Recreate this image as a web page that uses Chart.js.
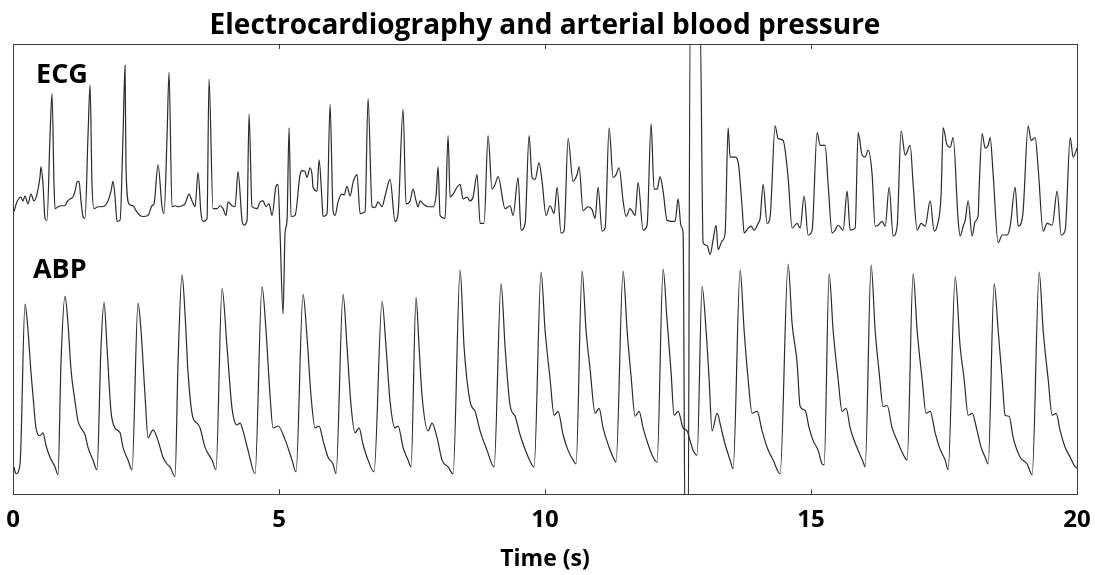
<!DOCTYPE html>
<html><head><meta charset="utf-8">
<script src="https://cdn.jsdelivr.net/npm/chart.js@4.4.1/dist/chart.umd.min.js"></script>
<style>html,body{margin:0;padding:0;background:#fff}</style>
</head><body>
<canvas id="c" width="1095" height="575"></canvas>
<script>
// ---------- DATA (time in s, ECG in mV, ABP in mmHg) ----------
const chartTitle = 'Electrocardiography and arterial blood pressure';
const xAxisTitle = 'Time (s)';
const xTicks = [0, 5, 10, 15, 20];

const ecgTime = [
0.019,0.075,0.150,0.188,0.226,0.282,0.338,0.395,0.451,0.508,
0.526,0.564,0.602,0.639,0.696,0.733,0.771,0.790,0.846,0.902,
0.978,1.015,1.072,1.128,1.166,1.203,1.241,1.278,1.316,1.354,
1.410,1.448,1.485,1.523,1.598,1.654,1.730,1.786,1.842,1.880,
1.918,1.955,2.012,2.068,2.106,2.124,2.181,2.256,2.312,2.388,
2.444,2.538,2.613,2.651,2.726,2.801,2.839,2.895,2.933,2.989,
3.046,3.102,3.177,3.234,3.309,3.365,3.422,3.478,3.534,3.572,
3.647,3.685,3.760,3.835,3.892,3.948,4.004,4.042,4.117,4.174,
4.230,4.305,4.343,4.399,4.437,4.493,4.587,4.644,4.700,4.756,
4.813,4.869,4.944,4.982,5.020,5.076,5.114,5.151,5.189,5.226,
5.302,5.396,5.433,5.490,5.527,5.584,5.621,5.640,5.715,5.753,
5.809,5.828,5.903,5.960,6.016,6.054,6.110,6.185,6.223,6.279,
6.336,6.392,6.467,6.524,6.618,6.674,6.749,6.806,6.862,6.937,
6.994,7.088,7.182,7.238,7.332,7.388,7.464,7.520,7.576,7.614,
7.652,7.708,7.802,7.896,7.952,7.990,8.028,8.122,8.178,8.216,
8.272,8.347,8.404,8.460,8.535,8.592,8.648,8.723,8.780,8.855,
8.930,9.005,9.062,9.118,9.250,9.344,9.400,9.494,9.550,9.626,
9.701,9.757,9.814,9.889,9.945,10.020,10.096,10.171,10.227,10.302,
10.359,10.434,10.528,10.603,10.641,10.716,10.810,10.885,10.942,10.998,
11.073,11.130,11.205,11.280,11.336,11.393,11.468,11.524,11.600,11.694,
11.750,11.844,11.919,11.994,12.051,12.107,12.164,12.220,12.295,12.389,
12.446,12.502,12.558,12.596,12.634,12.690,12.728,12.916,12.972,13.047,
13.104,13.160,13.216,13.254,13.329,13.386,13.442,13.480,13.574,13.630,
13.705,13.743,13.818,13.874,13.931,14.006,14.044,14.100,14.175,14.232,
14.326,14.382,14.476,14.570,14.645,14.739,14.796,14.871,14.946,15.021,
15.115,15.172,15.266,15.322,15.397,15.454,15.510,15.604,15.679,15.736,
15.830,15.886,15.961,16.018,16.074,16.149,16.206,16.262,16.337,16.394,
16.469,16.544,16.619,16.694,16.770,16.864,16.920,16.995,17.070,17.146,
17.240,17.315,17.371,17.446,17.484,17.559,17.616,17.672,17.766,17.804,
17.860,17.898,17.954,18.029,18.086,18.142,18.161,18.217,18.274,18.330,
18.368,18.424,18.518,18.593,18.687,18.744,18.838,18.894,18.950,18.988,
19.082,19.138,19.214,19.270,19.364,19.439,19.533,19.627,19.702,19.778,
19.872,19.928,20.000];

const ecgValue = [
0.00,0.10,0.15,0.11,0.16,0.08,0.18,0.11,0.18,0.36,
0.46,0.28,-0.07,-0.09,0.78,1.21,0.28,0.03,0.05,0.06,
0.06,0.10,0.13,0.15,0.21,0.30,0.31,0.11,-0.05,-0.07,
0.78,1.30,0.28,0.03,0.05,0.05,0.06,0.11,0.21,0.31,
0.15,-0.10,-0.09,0.78,1.50,0.45,0.08,0.06,0.01,-0.04,
-0.05,-0.04,0.06,0.08,0.48,0.05,-0.02,0.76,1.43,0.05,
0.06,0.05,0.06,0.08,0.18,0.11,0.05,0.40,-0.02,-0.10,
-0.07,1.36,0.03,0.03,0.06,0.03,-0.04,0.10,0.06,0.05,
0.41,-0.09,-0.14,-0.09,1.00,0.05,0.03,0.10,0.11,0.05,
0.08,-0.04,0.26,0.28,-0.22,-1.05,-0.22,-0.09,0.86,-0.05,
-0.04,0.38,0.42,0.41,0.35,0.45,0.38,0.25,0.21,0.53,
0.11,-0.05,-0.02,1.10,0.01,-0.04,0.10,0.18,0.17,0.26,
0.16,0.30,0.38,-0.02,0.00,1.16,0.05,0.04,0.10,0.05,
0.16,0.33,-0.10,-0.02,1.05,0.08,0.11,0.23,0.11,0.05,
0.11,0.08,0.05,0.05,0.16,0.46,-0.04,-0.07,0.78,0.15,
0.18,0.25,0.28,0.13,0.15,0.11,0.15,0.38,-0.12,-0.12,
0.78,0.23,0.28,0.36,0.03,0.06,-0.04,0.35,-0.19,-0.12,
0.78,0.35,0.33,0.50,0.31,-0.04,0.06,-0.02,0.25,-0.22,
-0.20,0.75,0.31,0.38,0.46,0.01,0.05,0.02,-0.07,0.25,
-0.20,-0.17,0.86,0.35,0.38,0.45,0.11,-0.05,0.03,-0.04,
0.30,-0.19,-0.14,0.90,0.23,0.23,0.36,0.21,-0.09,-0.10,
-0.10,0.13,-0.15,-0.22,-3.44,-3.44,1.96,1.96,-0.32,-0.35,
-0.44,-0.29,-0.14,-0.39,-0.30,-0.22,0.86,0.56,0.56,0.51,
0.05,-0.22,-0.17,-0.15,-0.19,-0.12,-0.07,0.28,-0.12,-0.05,
0.88,0.75,0.73,0.35,-0.17,-0.12,-0.17,0.16,-0.24,-0.19,
0.81,0.68,0.68,0.28,-0.22,-0.19,-0.14,-0.19,0.21,-0.19,
-0.17,0.81,0.58,0.56,0.63,0.38,-0.15,-0.14,-0.10,-0.15,
0.25,-0.25,-0.15,0.83,0.58,0.68,0.28,-0.19,-0.12,-0.15,
0.11,-0.20,-0.15,0.18,0.86,0.68,0.66,0.76,-0.09,-0.25,
-0.15,-0.09,0.11,-0.25,-0.10,-0.04,0.25,0.80,0.65,0.68,
0.76,0.38,-0.32,-0.24,-0.24,-0.15,0.25,-0.15,-0.12,0.01,
0.88,0.73,0.76,0.45,-0.20,-0.12,-0.14,0.21,-0.24,-0.19,
0.76,0.56,0.65];

const abpTime = [
0.019,0.056,0.132,0.226,0.282,0.338,0.376,0.432,0.508,0.564,
0.620,0.696,0.790,0.846,0.902,0.978,1.034,1.090,1.166,1.222,
1.278,1.354,1.410,1.504,1.579,1.654,1.711,1.767,1.842,1.918,
2.012,2.068,2.162,2.237,2.350,2.406,2.482,2.538,2.632,2.726,
2.820,2.895,2.952,3.046,3.102,3.177,3.234,3.290,3.384,3.459,
3.516,3.610,3.741,3.816,3.929,4.023,4.117,4.211,4.268,4.324,
4.418,4.550,4.681,4.756,4.832,4.888,4.982,5.114,5.245,5.320,
5.452,5.527,5.602,5.678,5.753,5.828,5.922,6.016,6.072,6.204,
6.279,6.354,6.430,6.505,6.580,6.674,6.787,6.937,7.012,7.088,
7.182,7.238,7.332,7.426,7.482,7.576,7.633,7.689,7.802,7.877,
7.971,8.065,8.178,8.272,8.404,8.479,8.592,8.686,8.780,8.911,
9.043,9.174,9.250,9.344,9.438,9.532,9.663,9.795,9.926,10.002,
10.096,10.171,10.246,10.340,10.434,10.528,10.584,10.697,10.772,10.848,
10.942,11.017,11.092,11.186,11.280,11.336,11.468,11.543,11.618,11.694,
11.769,11.844,11.938,12.032,12.107,12.220,12.295,12.370,12.427,12.502,
12.596,12.671,12.728,12.784,12.859,12.953,13.028,13.085,13.141,13.235,
13.310,13.386,13.480,13.536,13.668,13.743,13.818,13.893,13.987,14.081,
14.175,14.288,14.420,14.570,14.645,14.739,14.796,14.890,14.965,15.040,
15.134,15.209,15.247,15.341,15.416,15.510,15.585,15.660,15.736,15.792,
15.886,15.980,16.018,16.130,16.206,16.281,16.356,16.431,16.525,16.619,
16.713,16.807,16.920,16.995,17.089,17.164,17.240,17.334,17.428,17.522,
17.578,17.710,17.804,17.879,17.954,18.029,18.123,18.198,18.274,18.330,
18.443,18.518,18.593,18.650,18.725,18.800,18.932,19.063,19.157,19.289,
19.364,19.458,19.533,19.608,19.684,19.778,19.872,19.966,20.000];

const abpValue = [
64.0,60.5,65.5,147.5,134.0,112.5,100.5,84.0,80.0,81.5,
75.0,69.0,64.0,60.0,117.5,151.5,137.5,114.0,97.5,87.5,
84.0,80.5,74.0,67.5,62.5,125.5,148.5,125.5,92.5,84.0,
81.5,74.0,67.5,62.5,148.0,134.0,100.5,79.0,83.0,77.5,
69.0,65.5,64.0,59.0,117.5,162.5,142.5,112.5,89.0,86.5,
84.0,74.0,67.5,62.5,155.5,125.5,94.0,85.5,86.5,82.5,
72.5,60.5,156.5,134.0,100.5,84.0,85.0,78.0,67.5,61.5,
152.5,130.5,100.5,84.0,85.0,77.5,69.0,65.5,60.5,152.5,
125.5,95.5,81.5,84.0,75.5,67.5,61.5,149.0,125.5,97.5,
84.0,85.0,74.0,67.5,64.0,151.0,125.5,100.5,82.5,86.5,
79.0,67.5,64.0,60.5,165.0,125.5,97.5,92.5,82.5,72.5,
64.0,158.0,125.5,95.5,90.0,80.5,70.5,64.0,164.0,134.0,
109.0,90.5,92.5,80.5,72.5,67.5,65.5,164.5,134.0,114.0,
91.5,94.0,84.0,75.5,69.0,66.5,164.5,134.0,110.5,90.0,
92.5,84.0,75.5,69.0,66.5,165.5,139.0,112.5,90.5,92.5,
84.0,82.5,77.5,72.5,70.0,156.5,134.0,109.0,82.5,91.5,
84.0,75.5,67.5,63.0,165.0,134.0,109.0,91.5,92.5,82.5,
74.0,67.5,60.5,168.0,137.5,117.5,95.0,93.0,84.0,77.5,
72.5,65.5,65.0,163.0,134.0,109.0,92.5,94.0,84.0,79.0,
72.5,66.5,64.0,167.5,134.0,112.5,95.0,95.5,84.0,77.5,
71.5,67.5,163.0,134.0,109.0,91.5,92.5,81.5,73.0,67.5,
62.5,161.5,125.5,109.0,90.5,91.5,82.5,74.0,69.0,65.5,
158.0,134.0,109.0,90.5,90.0,79.0,69.0,65.5,60.0,164.0,
134.0,109.0,90.5,91.5,82.5,74.0,69.0,64.0,63.5];

// Visible value windows of the two stacked traces
const ecgRange = [-2.90, 1.72];   // mV
const abpRange = [50, 281];       // mmHg

// Panel labels anchored in data space
const panelLabels = [
  { text: 'ECG', t: 0.92, axis: 'yE', v: 1.40 },
  { text: 'ABP', t: 0.88, axis: 'yA', v: 165.0 }
];

// ---------- CHART ----------
const FONT = "'Open Sans', Lato, 'DejaVu Sans', sans-serif";
const ecgPts = ecgTime.map((t, i) => ({ x: t, y: ecgValue[i] }));
const abpPts = abpTime.map((t, i) => ({ x: t, y: abpValue[i] }));

const framePlugin = {
  id: 'frame',
  afterDatasetsDraw(chart) {
    const { ctx, chartArea: a, scales } = chart;
    ctx.save();
    ctx.strokeStyle = '#3c3c3c';
    ctx.lineWidth = 1;
    ctx.strokeRect(Math.round(a.left) + 0.5, Math.round(a.top) + 0.5,
                   Math.round(a.right - a.left), Math.round(a.bottom - a.top));
    ctx.beginPath();
    xTicks.forEach(v => {
      const px = Math.round(scales.x.getPixelForValue(v)) + 0.5;
      ctx.moveTo(px, a.bottom); ctx.lineTo(px, a.bottom - 5);
      ctx.moveTo(px, a.top); ctx.lineTo(px, a.top + 5);
    });
    ctx.stroke();
    ctx.fillStyle = '#000';
    ctx.font = 'bold 27px ' + FONT;
    ctx.textAlign = 'center';
    ctx.textBaseline = 'middle';
    panelLabels.forEach(l => {
      ctx.fillText(l.text, scales.x.getPixelForValue(l.t), scales[l.axis].getPixelForValue(l.v));
    });
    ctx.restore();
  }
};

Chart.defaults.color = '#000';
new Chart(document.getElementById('c'), {
  type: 'line',
  data: {
    datasets: [
      { label: 'ECG', data: ecgPts, yAxisID: 'yE', borderColor: '#2a2a2a', borderWidth: 1.2,
        pointRadius: 0, cubicInterpolationMode: 'monotone', fill: false },
      { label: 'ABP', data: abpPts, yAxisID: 'yA', borderColor: '#2a2a2a', borderWidth: 1.2,
        pointRadius: 0, cubicInterpolationMode: 'monotone', fill: false }
    ]
  },
  options: {
    responsive: false,
    animation: false,
    devicePixelRatio: 1,
    layout: { padding: { left: 13, right: 18, top: 0, bottom: 2 } },
    plugins: {
      legend: { display: false },
      tooltip: { enabled: false },
      title: {
        display: true, text: chartTitle, color: '#000',
        font: { family: FONT, size: 28, weight: 'bold', lineHeight: 1 },
        padding: { top: 12, bottom: 4 }
      }
    },
    scales: {
      x: {
        type: 'linear', min: xTicks[0], max: xTicks[xTicks.length - 1],
        afterBuildTicks: s => { s.ticks = xTicks.map(v => ({ value: v })); },
        afterFit: s => { s.paddingLeft = 0; s.paddingRight = 0; },
        grid: { display: false, drawTicks: false },
        border: { display: false },
        ticks: { font: { family: FONT, size: 24, weight: 'bold', lineHeight: 1.2 }, color: '#000', padding: 12, maxRotation: 0 },
        title: { display: true, text: xAxisTitle, color: '#000',
                 font: { family: FONT, size: 23, weight: 'bold', lineHeight: 1 }, padding: { top: 1, bottom: 2 } }
      },
      yE: { type: 'linear', display: false, min: ecgRange[0], max: ecgRange[1] },
      yA: { type: 'linear', display: false, min: abpRange[0], max: abpRange[1] }
    }
  },
  plugins: [framePlugin]
});
</script>
</body></html>
